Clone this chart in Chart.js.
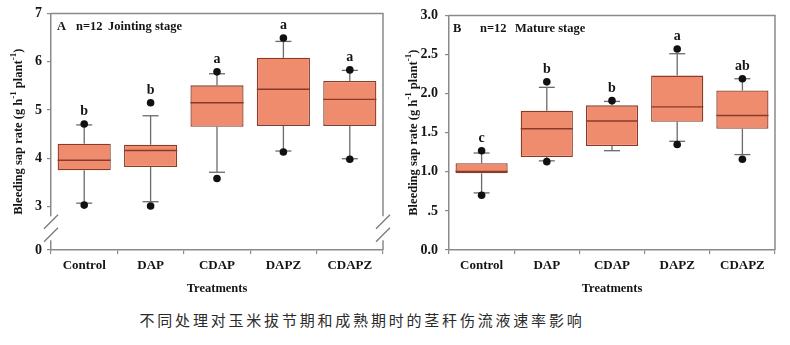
<!DOCTYPE html>
<html><head><meta charset="utf-8">
<script src="https://cdn.jsdelivr.net/npm/chart.js@4"></script>
<style>
html,body{margin:0;padding:0;background:#fff;}
body{width:790px;height:345px;overflow:hidden;position:relative;}
canvas{position:absolute;top:0;}
#ca{left:0;} #cb{left:395px;}
#cap{position:absolute;left:0;top:309px;width:724px;text-align:center;font-family:"Noto Sans CJK SC";font-size:15px;letter-spacing:2.8px;color:#2a2a2a;white-space:nowrap;}
</style></head><body>
<canvas id="ca" width="395" height="300"></canvas>
<canvas id="cb" width="395" height="300"></canvas>
<div id="cap">不同处理对玉米拔节期和成熟期时的茎秆伤流液速率影响</div>
<script>
// ---------- data ----------
const categories = ['Control','DAP','CDAP','DAPZ','CDAPZ'];

// Panel A: jointing stage
const whiskerLowA  = [3.07, 3.10, 3.71, 4.15, 3.99];
const q1A          = [3.75, 3.82, 4.65, 4.67, 4.67];
const medianA      = [3.96, 4.16, 5.15, 5.43, 5.22];
const q3A          = [4.30, 4.28, 5.51, 6.08, 5.60];
const whiskerHighA = [4.69, 4.88, 5.75, 6.42, 5.82];
const outHighA     = [4.71, 5.15, 5.79, 6.49, 5.83];
const outLowA      = [3.03, 3.01, 3.58, 4.13, 3.98];
const lettersA     = ['b','b','a','a','a'];
const yTicksA      = [2.1, 3, 4, 5, 6, 7];      // 2.1 is where the broken axis shows 0
const yTickLabelsA = ['0','3','4','5','6','7'];

// Panel B: mature stage
const whiskerLowB  = [0.73, 1.14, 1.27, 1.39, 1.22];
const q1B          = [0.98, 1.19, 1.33, 1.64, 1.55];
const medianB      = [1.005, 1.55, 1.65, 1.83, 1.72];
const q3B          = [1.11, 1.78, 1.85, 2.23, 2.04];
const whiskerHighB = [1.24, 2.08, 1.90, 2.51, 2.19];
const outHighB     = [1.27, 2.15, 1.91, 2.57, 2.19];
const outLowB      = [0.70, 1.13, null, 1.35, 1.16];
const lettersB     = ['c','b','b','a','ab'];
const yTicksB      = [0, 0.5, 1, 1.5, 2, 2.5, 3];
const yTickLabelsB = ['0.0','.5','1.0','1.5','2.0','2.5','3.0'];

// ---------- styling ----------
const SERIF = '"Liberation Serif","Times New Roman",serif';
const AXIS = '#8a8a8a';
const BOX_FILL = '#f08c6e';
const BOX_EDGE = '#8a3a28';
const WHISK = '#6a6a6a';
const TXT = '#151515';

function boxPlugin(p) {
  return {
    id: 'box_' + p.name,
    beforeDatasetsDraw(chart) {
      const ctx = chart.ctx, x = chart.scales.x, y = chart.scales.y;
      const half = 8;
      ctx.save();
      ctx.strokeStyle = WHISK; ctx.lineWidth = 1.3;
      categories.forEach((c, i) => {
        const px = x.getPixelForValue(i);
        const segs = [[p.q3[i], p.wh[i]], [p.q1[i], p.wl[i]]];
        segs.forEach(([a, b]) => {
          ctx.beginPath();
          ctx.moveTo(px, y.getPixelForValue(a));
          ctx.lineTo(px, y.getPixelForValue(b));
          ctx.stroke();
          ctx.beginPath();
          ctx.moveTo(px - half, y.getPixelForValue(b));
          ctx.lineTo(px + half, y.getPixelForValue(b));
          ctx.stroke();
        });
      });
      ctx.restore();
    },
    afterDatasetsDraw(chart) {
      const ctx = chart.ctx, x = chart.scales.x, y = chart.scales.y;
      const meta = chart.getDatasetMeta(0);
      ctx.save();
      ctx.strokeStyle = BOX_EDGE; ctx.lineWidth = 1.4;
      categories.forEach((c, i) => {
        const bar = meta.data[i];
        const w = bar.width;
        const py = y.getPixelForValue(p.med[i]);
        ctx.beginPath();
        ctx.moveTo(bar.x - w / 2, py);
        ctx.lineTo(bar.x + w / 2, py);
        ctx.stroke();
      });
      // significance letters
      ctx.fillStyle = TXT;
      ctx.font = 'bold 14px ' + SERIF;
      ctx.textAlign = 'center'; ctx.textBaseline = 'middle';
      categories.forEach((c, i) => {
        const top = Math.max(p.oh[i] ?? -Infinity, p.wh[i]);
        ctx.fillText(p.letters[i], x.getPixelForValue(i), y.getPixelForValue(top) - 12.5);
      });
      ctx.restore();
    },
    afterDraw(chart) {
      const ctx = chart.ctx, a = chart.chartArea;
      ctx.save();
      // top and right frame
      ctx.strokeStyle = AXIS; ctx.lineWidth = 1.5;
      ctx.beginPath();
      ctx.moveTo(a.left, a.top); ctx.lineTo(a.right, a.top); ctx.lineTo(a.right, a.bottom);
      ctx.stroke();
      // axis break
      if (p.breakAt) {
        const y = chart.scales.y;
        const yb = (y.getPixelForValue(p.breakAt[0]) + y.getPixelForValue(p.breakAt[1])) / 2;
        [a.left, a.right].forEach(xx => {
          ctx.fillStyle = '#fff';
          ctx.fillRect(xx - 3, yb - 12, 6, 24);
          ctx.strokeStyle = '#777'; ctx.lineWidth = 1.2;
          [-6.5, 6.5].forEach(d => {
            ctx.beginPath();
            ctx.moveTo(xx - 7, yb + d + 7);
            ctx.lineTo(xx + 7, yb + d - 7);
            ctx.stroke();
          });
        });
      }
      // panel label
      ctx.fillStyle = TXT;
      ctx.font = 'bold 12.5px ' + SERIF;
      ctx.textAlign = 'left'; ctx.textBaseline = 'middle';
      p.label.forEach(([t, dx]) => ctx.fillText(t, a.left + dx, a.top + 13));
      // y-axis title with superscripts
      const parts = [['Bleeding sap rate (g h', 0], ['-1', 1], [' plant', 0], ['-1', 1], [')', 0]];
      const fMain = 'bold 12.5px ' + SERIF, fSup = 'bold 9px ' + SERIF;
      let total = 0;
      parts.forEach(([t, s]) => { ctx.font = s ? fSup : fMain; total += ctx.measureText(t).width; });
      ctx.translate(21.5, (a.top + a.bottom) / 2);
      ctx.rotate(-Math.PI / 2);
      ctx.textBaseline = 'alphabetic';
      let cx = -total / 2;
      parts.forEach(([t, s]) => {
        ctx.font = s ? fSup : fMain;
        ctx.fillText(t, cx, s ? -6 : 0);
        cx += ctx.measureText(t).width;
      });
      ctx.restore();
    }
  };
}

function makeChart(id, p) {
  const tickFont = { family: SERIF, weight: 'bold', size: 13 };
  return new Chart(document.getElementById(id), {
    data: {
      labels: categories,
      datasets: [
        { type: 'bar', data: categories.map((c, i) => [p.q1[i], p.q3[i]]),
          backgroundColor: BOX_FILL, borderColor: BOX_EDGE, borderWidth: 1.3,
          borderSkipped: false, barPercentage: 0.8, categoryPercentage: 1, order: 2 },
        { type: 'line', data: p.oh, showLine: false, pointRadius: 3.8,
          pointBackgroundColor: '#111', pointBorderWidth: 0, order: 1 },
        { type: 'line', data: p.ol, showLine: false, pointRadius: 3.8,
          pointBackgroundColor: '#111', pointBorderWidth: 0, order: 1 }
      ]
    },
    options: {
      responsive: false, animation: false,
      layout: { padding: { top: 12, right: p.padRight, bottom: 0, left: 0 } },
      plugins: { legend: { display: false }, tooltip: { enabled: false } },
      scales: {
        x: {
          type: 'category', offset: true,
          grid: { display: true, drawOnChartArea: false, drawTicks: true, tickLength: 4, color: AXIS, lineWidth: 1.2 },
          border: { display: true, color: AXIS, width: 1.5 },
          ticks: { font: tickFont, color: TXT, padding: 4 },
          title: { display: true, text: 'Treatments', color: TXT,
                   font: { family: SERIF, weight: 'bold', size: 12.5 }, padding: { top: 0, bottom: 4 } },
          afterFit: s => { s.height = 50; }
        },
        y: {
          min: p.yTicks[0], max: p.yTicks[p.yTicks.length - 1],
          afterBuildTicks: s => { s.ticks = p.yTicks.map(v => ({ value: v })); },
          grid: { display: true, drawOnChartArea: false, drawTicks: true, tickLength: 4, color: AXIS, lineWidth: 1.2 },
          border: { display: true, color: AXIS, width: 1.5 },
          ticks: { font: { family: SERIF, weight: 'bold', size: 14 }, color: TXT, padding: p.yPad,
                   callback: (v) => { const k = p.yTicks.indexOf(v); return k >= 0 ? p.yLabels[k] : ''; } },
          afterFit: s => { s.width = p.yWidth; }
        }
      }
    },
    plugins: [boxPlugin(p)]
  });
}

makeChart('ca', {
  name: 'A', q1: q1A, q3: q3A, med: medianA, wl: whiskerLowA, wh: whiskerHighA,
  oh: outHighA, ol: outLowA, letters: lettersA, yTicks: yTicksA, yLabels: yTickLabelsA,
  breakAt: [yTicksA[0], yTicksA[1]], yWidth: 51, yPad: 5, padRight: 12,
  label: [['A', 6], ['n=12', 25], ['Jointing stage', 57]]
});
makeChart('cb', {
  name: 'B', q1: q1B, q3: q3B, med: medianB, wl: whiskerLowB, wh: whiskerHighB,
  oh: outHighB, ol: outLowB, letters: lettersB, yTicks: yTicksB, yLabels: yTickLabelsB,
  breakAt: null, yWidth: 54, yPad: 7, padRight: 15,
  label: [['B', 4], ['n=12', 31], ['Mature stage', 66]]
});
</script>
</body></html>
